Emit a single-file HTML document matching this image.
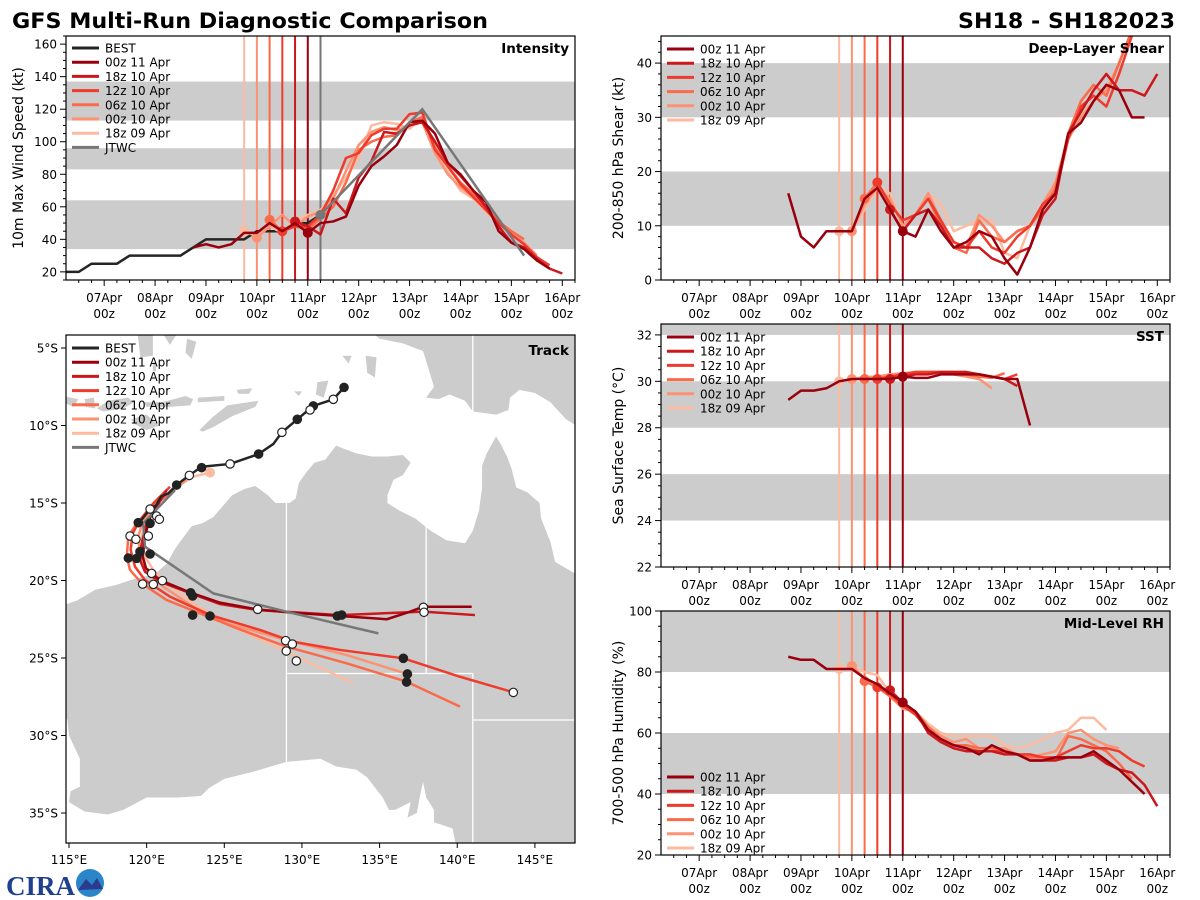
<!DOCTYPE html>
<html><head><meta charset="utf-8"><title>GFS Multi-Run Diagnostic Comparison</title>
<style>
html,body{margin:0;padding:0;background:#fff;width:1200px;height:900px;overflow:hidden;}
svg{display:block;font-family:"DejaVu Sans","Liberation Sans",sans-serif;}
</style></head>
<body>
<svg id="fig" width="1200" height="900" viewBox="0 0 1200 900" xmlns="http://www.w3.org/2000/svg">
<text x="12" y="28" font-size="21" font-weight="bold" textLength="476" lengthAdjust="spacingAndGlyphs">GFS Multi-Run Diagnostic Comparison</text>
<text x="1175" y="28" font-size="21" font-weight="bold" text-anchor="end" textLength="217" lengthAdjust="spacingAndGlyphs">SH18 - SH182023</text>
<g>
<text x="6" y="895" font-size="27" font-weight="bold" fill="#1f3f8f" font-family="Liberation Serif, serif">CIRA</text>
<circle cx="90" cy="883" r="14" fill="#2a86c8"/>
<path d="M78 890 L86 879 L92 885 L97 878 L103 889 Z" fill="#2b3b8f"/>
</g>
</svg>
<script>
// ---------- shared run metadata ----------
const runNames = ['00z 11 Apr','18z 10 Apr','12z 10 Apr','06z 10 Apr','00z 10 Apr','18z 09 Apr'];
const runColors = ['#99000d','#cb181d','#ef3b2c','#fb6a4a','#fc9272','#fcbba1'];
const runInit = [11.0,10.75,10.5,10.25,10.0,9.75];
const seriesStart = [8.75,10.75,10.5,10.25,10.0,9.75];
const dayTicks = ['07Apr','08Apr','09Apr','10Apr','11Apr','12Apr','13Apr','14Apr','15Apr','16Apr'];

// ---------- intensity (kt) ----------
const bestDays = [6.25,6.5,6.75,7.25,7.5,8.5,8.75,9.0,9.75,10.0,10.5,10.75,11.0,11.25];
const bestWind = [20,20,25,25,30,30,35,40,40,45,45,50,50,55];
const jtwcDays = [11.25,13.25,15.25];
const jtwcWind = [55,120,30];
const int00z11 = [35,37,35,37,44,44,50,45,50,44,50,51,54,73,85,91,98,112,113,105,87,80,70,63,45,38,34,27,22];
const int18z10 = [51,48,43,65,56,78,88,106,105,110,112,100,87,79,70,60,48,38,35,28,22,19];
const int12z10 = [45,48,48,55,70,90,93,104,108,108,117,118,95,85,74,66,58,50,43,37,29,24];
const int06z10 = [52,45,48,46,53,60,75,95,100,103,104,112,115,96,85,75,68,60,51,45,40];
const int00z10 = [41,48,55,48,54,57,65,82,98,106,109,107,110,112,93,80,72,66,58,50,43,38,30];
const int18z09 = [45,42,48,44,52,55,58,67,78,90,110,112,111,108,115,98,82,70,65,57,50,44];
const intBandLo = [34,83,113];
const intBandHi = [64,96,137];

// ---------- deep-layer shear (kt) ----------
const shr00z11 = [16,8,6,9,9,9,15,17,13,9,8,13,9,6,7,9,8,4,1,6,13,16,27,29,33,36,35,30,30];
const shr18z10 = [13,9,12,13,10,6,6,6,4,3,5,6,12,15,27,31,35,38,35,35,34,38];
const shr12z10 = [18,14,11,12,15,11,7,6,9,6,5,8,10,14,16,26,32,34,32,38,45];
const shr06z10 = [15,18,14,11,12,15,10,6,5,11,8,7,9,10,13,17,27,33,36,34,40,46];
const shr00z10 = [9,14,17,15,10,12,16,11,7,6,12,10,7,9,10,14,18,26,30,33,35,40,46];
const shr18z09 = [9,9,13,17,16,10,12,16,14,9,10,11,11,5,4,10,14,17,26,30,33,35,40,46];
const shrBandLo = [10,30];
const shrBandHi = [20,40];

// ---------- SST (C) ----------
const sst00z11 = [29.2,29.6,29.6,29.7,30.0,30.1,30.1,30.1,30.1,30.2,30.15,30.15,30.3,30.3,30.3,30.3,30.2,30.1,30.1,28.1];
const sst18z10 = [30.1,30.2,30.3,30.3,30.4,30.4,30.4,30.3,30.2,30.1,29.8];
const sst12z10 = [30.1,30.2,30.3,30.4,30.4,30.4,30.4,30.4,30.3,30.2,30.1,30.3];
const sst06z10 = [30.1,30.1,30.2,30.3,30.4,30.4,30.4,30.4,30.3,30.2,30.15,30.35];
const sst00z10 = [30.1,30.15,30.2,30.3,30.35,30.4,30.4,30.4,30.3,30.2,30.1,29.7];
const sst18z09 = [30.0,30.1,30.2,30.2,30.3,30.3,30.35,30.4,30.4,30.3,30.2,30.1,29.7];
const sstBandLo = [24,28,32];
const sstBandHi = [26,30,34];

// ---------- mid-level RH (%) ----------
const rh00z11 = [85,84,84,81,81,81,78,76,73,70,67,61,58,56,55,53,56,54,53,51,51,52,52,52,54,51,48,44,40];
const rh18z10 = [74,70,67,60,57,55,54,54,54,53,53,51,51,51,52,52,53,50,48,47,43,36];
const rh12z10 = [75,73,69,66,61,58,56,55,54,54,54,53,53,52,52,54,56,55,55,54,51,49];
const rh06z10 = [77,75,72,69,67,62,58,56,56,55,55,54,53,52,52,51,59,58,56,54,50,45];
const rh00z10 = [82,78,76,72,68,67,62,59,57,58,55,55,55,53,52,53,54,60,61,58,56,55];
const rh18z09 = [81,82,80,79,73,69,67,63,60,59,59,59,59,56,55,56,58,60,61,65,65,61];
const rhBandLo = [40,80];
const rhBandHi = [60,100];

// ---------- track (lon E, lat S) ----------
const bestLon = [132.71,132.02,130.73,129.70,128.71,128.16,127.21,125.37,123.54,122.75,121.93,121.40,120.92,120.64,120.22,119.57,119.40];
const bestLat = [7.54,8.31,8.74,9.60,10.44,11.19,11.84,12.48,12.66,13.21,13.84,14.38,14.59,15.13,15.39,16.21,16.27];
const trk00z11Lon = [120.86,120.22,119.89,119.75,119.96,120.86,122.84,124.72,127.09,129.44,132.45,135.46,136.96,137.81,140.93];
const trk00z11Lat = [14.70,15.88,17.17,18.46,19.21,19.97,20.79,21.43,21.86,22.08,22.29,22.50,22.01,21.69,21.69];
const trk18z10Lon = [121.29,120.65,120.00,119.68,119.57,119.89,120.86,122.84,124.72,127.09,132.45,137.81,141.14];
const trk18z10Lat = [14.16,15.24,16.31,17.60,18.68,19.43,20.08,20.83,21.52,21.90,22.23,22.01,22.23];
const trk12z10Lon = [121.50,120.43,119.57,119.10,118.97,119.25,119.89,121.50,124.08,127.30,129.44,132.45,136.53,140.18,143.61];
const trk12z10Lat = [13.95,15.02,16.10,16.96,18.03,19.11,19.97,21.04,22.23,23.19,23.95,24.48,25.02,26.21,27.21];
const trk06z10Lon = [121.72,120.43,119.36,118.82,118.72,118.93,119.68,121.29,123.44,125.80,129.01,132.88,136.74,140.18];
const trk06z10Lat = [14.16,15.24,16.31,17.17,18.46,19.32,20.18,21.26,22.12,23.08,24.27,25.34,26.53,28.14];
const trk00z10Lon = [122.58,121.50,120.65,119.78,119.46,119.57,120.11,121.07,123.00,125.15,129.01,132.88,136.78];
const trk00z10Lat = [13.52,14.27,15.02,16.10,17.17,18.46,19.54,20.40,21.69,22.76,23.84,24.81,26.03];
const trk18z09Lon = [124.08,123.00,121.93,120.86,120.00,119.68,119.89,120.43,121.29,123.00,125.58,129.44,133.31];
const trk18z09Lat = [13.04,13.30,13.95,14.81,15.88,17.17,18.46,19.32,20.18,21.47,22.98,24.81,26.63];
const jtwcLon = [121.83,119.78,119.89,124.29,129.01,134.92];
const jtwcLat = [14.16,16.31,17.82,20.83,22.01,23.41];
const dotLon = [132.71,132.02,130.73,130.52,129.70,128.71,127.21,125.37,123.54,122.75,121.93,119.46,120.22,120.64,120.82,118.93,119.31,120.11,120.22,118.82,119.36,120.22,119.57,120.32,119.74,120.43,121.01,122.83,122.96,122.96,124.08,127.15,132.28,132.56,137.82,137.86,128.95,129.38,128.99,129.64,136.53,136.79,136.74,143.61];
const dotLat = [7.54,8.31,8.74,9.00,9.60,10.44,11.84,12.48,12.72,13.22,13.84,16.27,15.39,15.84,16.05,17.13,17.34,17.13,16.31,18.55,18.57,18.29,18.14,19.54,20.23,20.25,20.01,20.79,21.00,22.23,22.29,21.86,22.29,22.23,21.73,22.05,23.88,24.10,24.55,25.19,25.02,26.03,26.55,27.22];
const dotFilled = [1,0,1,0,1,0,1,0,1,0,1,1,0,0,0,0,0,0,1,1,1,1,1,0,0,0,0,1,1,1,1,0,1,1,0,0,0,0,0,0,1,1,1,0];

// ---------- map land outlines (lon E, lat S) ----------
const landShapes = [
 [[113.7,22.5],[114.2,21.9],[114.6,21.6],[115.5,21.3],[116.7,20.6],[118.0,20.3],[119.2,19.9],[120.5,19.6],[121.3,18.9],[121.8,18.0],[122.3,17.3],[122.9,16.5],[123.6,16.3],[124.3,15.9],[124.9,15.2],[125.5,14.5],[126.3,14.1],[127.0,13.9],[127.8,14.5],[128.3,15.0],[129.2,15.0],[129.6,14.7],[129.8,13.7],[130.3,13.0],[130.8,12.4],[131.5,12.2],[132.2,11.3],[132.7,11.5],[133.5,11.8],[134.5,12.0],[135.5,12.0],[136.5,11.9],[137.0,12.4],[136.5,13.2],[135.9,13.5],[135.5,14.5],[135.5,15.0],[136.3,15.5],[137.3,16.0],[138.3,16.8],[139.3,17.4],[140.5,17.6],[141.0,16.8],[141.4,15.5],[141.6,14.0],[141.6,12.6],[141.9,11.8],[142.5,10.7],[142.8,11.2],[143.2,12.0],[143.5,12.8],[143.8,14.0],[144.5,14.3],[145.3,15.0],[145.4,16.0],[146.0,17.5],[146.3,18.8],[147.5,19.5],[148.5,20.2],[149.5,21.5],[150.8,22.5],[153,25],[153.5,28],[153,32],[151,34],[150,37.5],[148,38],[146,39],[144,38.2],[141,38],[140,37.5],[139.7,36],[138.5,35.6],[138.5,34.8],[138.0,34.0],[137.8,33.0],[137.6,33.9],[137.4,35.0],[136.8,35.3],[137.0,34.3],[136.0,34.8],[135.6,34.8],[135.2,34.0],[134.2,32.7],[133.5,32.2],[132.2,32.0],[131.2,31.5],[129,31.7],[127,32.3],[125,32.8],[124,33.4],[123.5,33.9],[122,34],[120,34],[118.5,34.8],[117.5,35.1],[116,34.9],[115,34.3],[115.1,33.6],[115.7,33.3],[115.7,31.5],[115,30],[114.9,29],[114.2,28],[113.5,26],[113.5,24]],
 [[133.5,3.0],[133.5,3.9],[134.5,4.0],[135,4.4],[136.5,4.7],[137.8,5.2],[138.2,6.5],[138.5,7.5],[138.0,8.2],[138.8,8.3],[139.5,8.0],[140.5,8.4],[141.0,9.1],[142.5,9.3],[143.3,9.0],[143.4,8.2],[144.0,7.7],[145.0,7.9],[146.0,8.5],[147.0,9.6],[148,10.2],[150,10.5],[150,3.0]],
 [[123.4,10.3],[124.2,9.5],[125.2,8.7],[127.2,8.4],[127.0,8.8],[125.5,9.4],[124.3,10.1],[123.6,10.4]],
 [[125.8,7.7],[126.8,7.6],[126.6,7.95],[125.9,7.95]],
 [[119.0,9.6],[120.0,9.3],[120.8,10.0],[120.0,10.3],[119.2,9.9]],
 [[119.8,8.5],[121,8.5],[122.5,8.1],[123,8.3],[122.8,8.7],[121.5,8.8],[120,8.8]],
 [[116.8,8.9],[117.5,8.4],[118.8,8.2],[119.2,8.5],[118.5,8.9],[117.2,9.1]],
 [[116,8.3],[116.6,8.2],[116.7,8.9],[116.1,8.8]],
 [[114.6,8.1],[115.6,8.3],[115.3,8.8],[114.6,8.5]],
 [[123.3,8.2],[125,8.1],[125,8.4],[123.3,8.5]],
 [[119.4,4.0],[119.6,5.6],[120.4,5.5],[120.4,4.0]],
 [[121,4.0],[121.5,4.8],[122,4.0]],
 [[122.6,4.4],[123.2,4.6],[122.9,5.7],[122.5,5.3]],
 [[120.4,5.9],[120.6,5.9],[120.6,6.5],[120.4,6.5]],
 [[131,7.2],[131.7,7.1],[131.4,8.2],[130.9,8.0]],
 [[132.6,5.5],[133.2,5.5],[133.0,6.0]],
 [[134.1,5.5],[134.8,5.6],[134.7,6.9],[134.2,6.6]],
 [[129.5,7.8],[130,7.8],[129.8,8.1]]
];
const borderLines = [
 [[129,14.9],[129,40]],
 [[138,16.3],[138,26]],
 [[129,26],[141,26]],
 [[141,26],[141,40]],
 [[141,29],[150,29]],
 [[141,4.0],[141,9.1]]
];

// ---------- rendering ----------
const NS = 'http://www.w3.org/2000/svg';
const svg = document.getElementById('fig');
function mk(tag, attrs, parent){
  const e = document.createElementNS(NS, tag);
  for (const k in attrs) e.setAttribute(k, attrs[k]);
  (parent||svg).appendChild(e);
  return e;
}
const DMIN = 6.25, DMAX = 16.25;

function tsPanel(cfg){
  const g = mk('g', {});
  
  
  const sx = d => cfg.x0 + (d-DMIN)/(DMAX-DMIN)*(cfg.x1-cfg.x0);
  const sy = v => cfg.y1 - (v-cfg.vmin)/(cfg.vmax-cfg.vmin)*(cfg.y1-cfg.y0);
  const cid = 'clip-' + cfg.name;
  const cp = mk('clipPath', {id: cid}, g);
  mk('rect', {x: cfg.x0, y: cfg.y0, width: cfg.x1-cfg.x0, height: cfg.y1-cfg.y0}, cp);
  const inner = mk('g', {'clip-path': 'url(#'+cid+')'}, g);
  // bands
  cfg.bandLo.forEach((lo, i) => {
    const r = mk('rect', {x: cfg.x0, y: sy(cfg.bandHi[i]), width: cfg.x1-cfg.x0, height: sy(lo)-sy(cfg.bandHi[i]), fill: '#cccccc'}, inner);
    
    
  });
  // init lines (lightest first)
  for (let i = runInit.length-1; i >= 0; i--) {
    const l = mk('line', {x1: sx(runInit[i]), x2: sx(runInit[i]), y1: cfg.y0, y2: cfg.y1, stroke: runColors[i], 'stroke-width': 2}, inner);
    
    
  }
  if (cfg.jtwcInit) {
    const l = mk('line', {x1: sx(cfg.jtwcInit), x2: sx(cfg.jtwcInit), y1: cfg.y0, y2: cfg.y1, stroke: '#777777', 'stroke-width': 2}, inner);
    
    
  }
  // best track
  if (cfg.bestDays) {
    const pts = cfg.bestDays.map((d,i) => sx(d)+','+sy(cfg.bestVals[i])).join(' ');
    const p = mk('polyline', {points: pts, fill: 'none', stroke: '#252525', 'stroke-width': 2.5}, inner);
    
    
  }
  // runs
  for (let i = cfg.series.length-1; i >= 0; i--) {
    const s = cfg.series[i];
    const pts = s.map((v,j) => sx(seriesStart[i] + j*0.25)+','+sy(v)).join(' ');
    const p = mk('polyline', {points: pts, fill: 'none', stroke: runColors[i], 'stroke-width': 2.5, 'stroke-linejoin': 'round'}, inner);
    
    
    const k = Math.round((runInit[i]-seriesStart[i])/0.25);
    if (k >= 0 && k < s.length) {
      const c = mk('circle', {cx: sx(runInit[i]), cy: sy(s[k]), r: 5, fill: runColors[i]}, inner);
      
      
    }
  }
  if (cfg.jtwcDays) {
    const pts = cfg.jtwcDays.map((d,i) => sx(d)+','+sy(cfg.jtwcVals[i])).join(' ');
    const p = mk('polyline', {points: pts, fill: 'none', stroke: '#777777', 'stroke-width': 2.5}, inner);
    
    
    const c = mk('circle', {cx: sx(cfg.jtwcDays[0]), cy: sy(cfg.jtwcVals[0]), r: 5, fill: '#777777'}, inner);
    
    
  }
  // frame
  const fr = mk('rect', {x: cfg.x0, y: cfg.y0, width: cfg.x1-cfg.x0, height: cfg.y1-cfg.y0, fill: 'none', stroke: '#000', 'stroke-width': 1.2}, g);
  
  
  // x ticks
  for (let d = 6.5; d <= DMAX; d += 0.25) {
    const major = Math.abs(d - Math.round(d)) < 1e-6;
    mk('line', {x1: sx(d), x2: sx(d), y1: cfg.y1, y2: cfg.y1 + (major?6:3), stroke: '#000', 'stroke-width': 1}, g);
  }
  dayTicks.forEach((lab, i) => {
    const t = mk('text', {x: sx(7+i), y: cfg.y1+22, 'font-size': 12, 'text-anchor': 'middle'}, g);
    t.textContent = lab;
    
    
    const t2 = mk('text', {x: sx(7+i), y: cfg.y1+38, 'font-size': 12, 'text-anchor': 'middle'}, g);
    t2.textContent = '00z';
    
    
  });
  // y ticks
  for (let v = cfg.vmin; v <= cfg.vmax + 1e-6; v += cfg.minor) {
    const vv = Math.round(v*100)/100;
    const major = Math.abs(vv/cfg.major - Math.round(vv/cfg.major)) < 1e-6 && vv >= cfg.firstMajor;
    mk('line', {x1: cfg.x0, x2: cfg.x0 - (major?6:3), y1: sy(vv), y2: sy(vv), stroke: '#000', 'stroke-width': 1}, g);
    if (major) {
      const t = mk('text', {x: cfg.x0-9, y: sy(vv)+4.5, 'font-size': 12, 'text-anchor': 'end'}, g);
      t.textContent = vv;
      
      
    }
  }
  const yc = (cfg.y0+cfg.y1)/2;
  const yl = mk('text', {x: cfg.ylabX, y: yc, 'font-size': 14, 'text-anchor': 'middle', transform: 'rotate(-90 '+cfg.ylabX+' '+yc+')'}, g);
  yl.textContent = cfg.ylabel;
  
  
  const tt = mk('text', {x: cfg.x1-6, y: cfg.y0+17, 'font-size': 13.5, 'font-weight': 'bold', 'text-anchor': 'end'}, g);
  tt.textContent = cfg.title;
  
  
  legend(g, cfg.x0+6, cfg.legY, cfg.withBest);
}

function legend(g, x, y, withBest){
  const items = [];
  if (withBest) items.push(['BEST', '#252525']);
  runNames.forEach((n,i) => items.push([n, runColors[i]]));
  if (withBest) items.push(['JTWC', '#777777']);
  const lg = mk('g', {}, g);
  
  
  items.forEach((it, i) => {
    const yy = y + i*14.2;
    const e = mk('g', {}, lg);
    
    
    mk('line', {x1: x, x2: x+27, y1: yy, y2: yy, stroke: it[1], 'stroke-width': 3}, e);
    const t = mk('text', {x: x+33, y: yy+4.5, 'font-size': 12}, e);
    t.textContent = it[0];
  });
}

tsPanel({name:'intensity', x0:66, x1:575, y0:36, y1:280, vmin:15, vmax:165, major:20, minor:5, firstMajor:20,
  bandLo:intBandLo, bandHi:intBandHi, series:[int00z11,int18z10,int12z10,int06z10,int00z10,int18z09],
  bestDays:bestDays, bestVals:bestWind, jtwcDays:jtwcDays, jtwcVals:jtwcWind, jtwcInit:11.25,
  ylabel:'10m Max Wind Speed (kt)', ylabX:23, title:'Intensity', legY:48, withBest:true});
tsPanel({name:'shear', x0:661, x1:1170, y0:36, y1:280, vmin:0, vmax:45, major:10, minor:2, firstMajor:0,
  bandLo:shrBandLo, bandHi:shrBandHi, series:[shr00z11,shr18z10,shr12z10,shr06z10,shr00z10,shr18z09],
  ylabel:'200-850 hPa Shear (kt)', ylabX:623, title:'Deep-Layer Shear', legY:49, withBest:false});
tsPanel({name:'sst', x0:661, x1:1170, y0:324, y1:567, vmin:22, vmax:32.47, major:2, minor:0.5, firstMajor:22,
  bandLo:sstBandLo, bandHi:sstBandHi, series:[sst00z11,sst18z10,sst12z10,sst06z10,sst00z10,sst18z09],
  ylabel:'Sea Surface Temp (°C)', ylabX:623, title:'SST', legY:337, withBest:false});
tsPanel({name:'rh', x0:661, x1:1170, y0:611, y1:855, vmin:20, vmax:100, major:20, minor:5, firstMajor:20,
  bandLo:rhBandLo, bandHi:rhBandHi, series:[rh00z11,rh18z10,rh12z10,rh06z10,rh00z10,rh18z09],
  ylabel:'700-500 hPa Humidity (%)', ylabX:623, title:'Mid-Level RH', legY:777, withBest:false});

// ---------- track map ----------
(function(){
  const T = {x0:66, x1:575, y0:335, y1:843};
  const px = lon => 69 + (lon-115)*15.53;
  const py = lat => 348 + (lat-5)*15.5;
  const g = mk('g', {});
  
  
  const cp = mk('clipPath', {id: 'clip-track'}, g);
  mk('rect', {x: T.x0, y: T.y0, width: T.x1-T.x0, height: T.y1-T.y0}, cp);
  const inner = mk('g', {'clip-path': 'url(#clip-track)'}, g);
  mk('rect', {x: T.x0, y: T.y0, width: T.x1-T.x0, height: T.y1-T.y0, fill: '#ffffff'}, inner);
  landShapes.forEach(sh => {
    const p = mk('polygon', {points: sh.map(q => px(q[0])+','+py(q[1])).join(' '), fill: '#cccccc'}, inner);
    
    
  });
  borderLines.forEach(b => {
    const l = mk('polyline', {points: b.map(q => px(q[0])+','+py(q[1])).join(' '), fill: 'none', stroke: '#ffffff', 'stroke-width': 1.3}, inner);
    
    
  });
  const tracks = [
    [trk18z09Lon, trk18z09Lat, runColors[5], '18z-09-apr'],
    [trk00z10Lon, trk00z10Lat, runColors[4], '00z-10-apr'],
    [trk06z10Lon, trk06z10Lat, runColors[3], '06z-10-apr'],
    [trk12z10Lon, trk12z10Lat, runColors[2], '12z-10-apr'],
    [trk18z10Lon, trk18z10Lat, runColors[1], '18z-10-apr'],
    [trk00z11Lon, trk00z11Lat, runColors[0], '00z-11-apr'],
    [jtwcLon, jtwcLat, '#777777', 'jtwc'],
    [bestLon, bestLat, '#252525', 'best']
  ];
  tracks.forEach(t => {
    const p = mk('polyline', {points: t[0].map((lo,i) => px(lo)+','+py(t[1][i])).join(' '), fill: 'none', stroke: t[2], 'stroke-width': 2.5, 'stroke-linejoin': 'round'}, inner);
    
    
  });
  const s = mk('circle', {cx: px(trk18z09Lon[0]), cy: py(trk18z09Lat[0]), r: 5, fill: runColors[5]}, inner);
  
  
  dotLon.forEach((lo, i) => {
    const c = mk('circle', {cx: px(lo), cy: py(dotLat[i]), r: 4.2, fill: dotFilled[i] ? '#222222' : '#ffffff', stroke: '#222222', 'stroke-width': 1.2}, inner);
    
    
  });
  const fr = mk('rect', {x: T.x0, y: T.y0, width: T.x1-T.x0, height: T.y1-T.y0, fill: 'none', stroke: '#000', 'stroke-width': 1.2}, g);
  
  
  for (let lon = 115; lon <= 145; lon += 5) {
    mk('line', {x1: px(lon), x2: px(lon), y1: T.y1, y2: T.y1+5, stroke: '#000'}, g);
    const t = mk('text', {x: px(lon), y: T.y1+21, 'font-size': 12, 'text-anchor': 'middle'}, g);
    t.textContent = lon + '°E';
    
    
  }
  for (let lat = 5; lat <= 35; lat += 5) {
    mk('line', {x1: T.x0, x2: T.x0-5, y1: py(lat), y2: py(lat), stroke: '#000'}, g);
    const t = mk('text', {x: T.x0-8, y: py(lat)+4.5, 'font-size': 12, 'text-anchor': 'end'}, g);
    t.textContent = lat + '°S';
    
    
  }
  const tt = mk('text', {x: T.x1-6, y: T.y0+20, 'font-size': 13.5, 'font-weight': 'bold', 'text-anchor': 'end'}, g);
  tt.textContent = 'Track';
  
  
  legend(g, T.x0+6, 348, true);
})();
</script>
</body></html>
